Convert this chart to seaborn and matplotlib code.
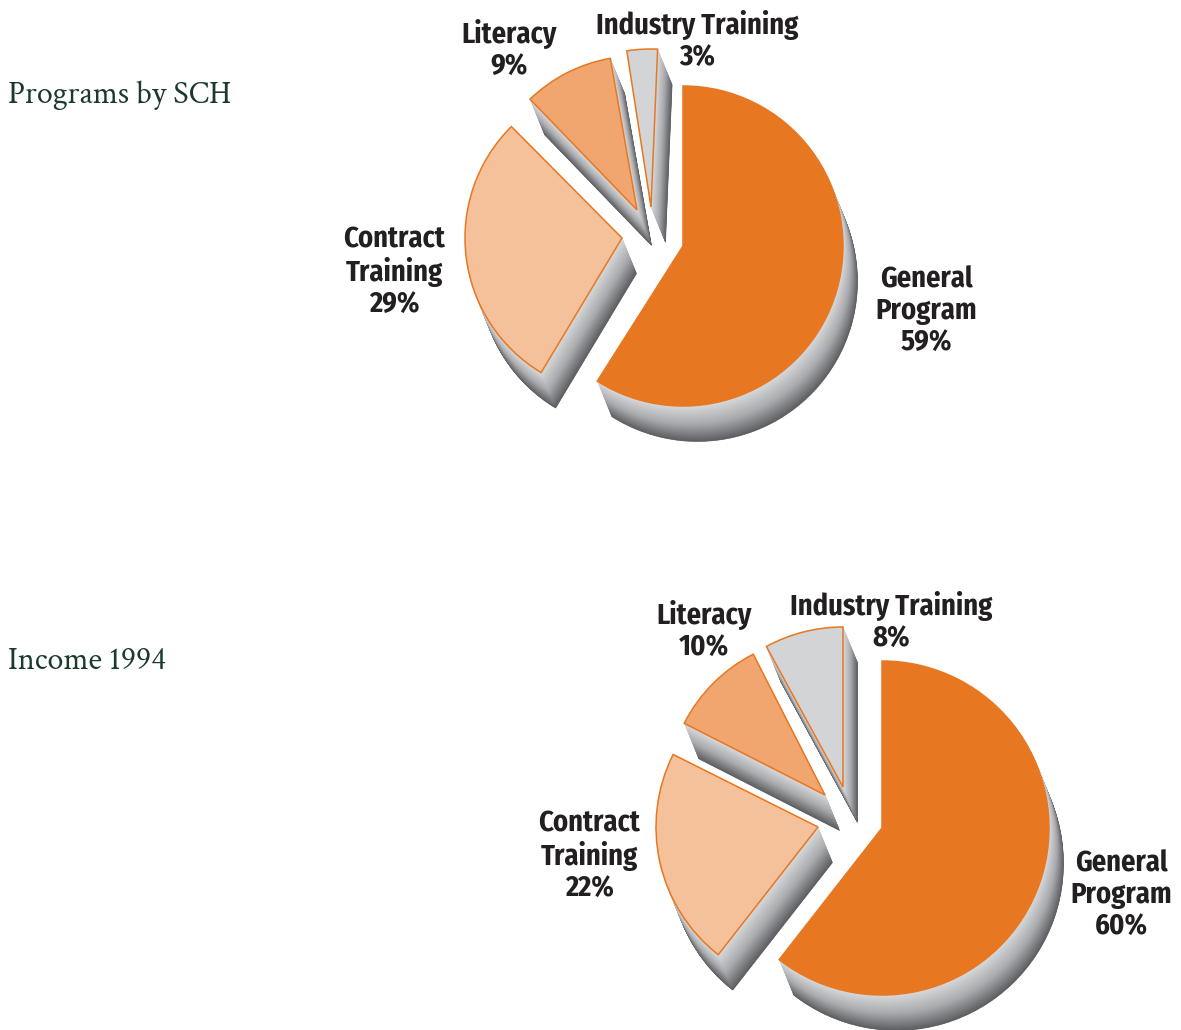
import logging
import matplotlib
matplotlib.use("Agg")
import matplotlib.pyplot as plt
import seaborn as sns

logging.getLogger("matplotlib.font_manager").setLevel(logging.ERROR)

# =====================================================
# DATA
# =====================================================

categories = ["General\nProgram", "Contract\nTraining", "Literacy", "Industry Training"]
sch_values = [59, 29, 9, 3]
income_values = [60, 22, 10, 8]

sch_title = "Programs by SCH"
income_title = "Income 1994"

# =====================================================
# STYLE
# =====================================================

W, H = 1181, 1030

slice_colors = ["#E87722", "#F5C19A", "#F2A66F", "#D2D4D6"]
line_color = "#E87722"
text_color = "#231F20"
title_color = "#1C3A2C"

shadow_steps = 72
shadow_dx = 14.5
shadow_dy = 35.5

# apex of each slice in pixels, its radius, and the small hand-drawn
# shift of its two edges (degrees clockwise) seen in the original
sch_apex = [(683, 246), (622, 238), (637, 210), (651, 207)]
sch_radius = [160, 157, 154, 158]
sch_nudge = [(0, 0), (-1.4, -1.6), (-0.8, 0.8), (2.0, 2.4)]

income_apex = [(882, 828), (818, 827), (825, 795), (843, 787)]
income_radius = [167, 162, 158, 160]
income_nudge = [(0, 2), (2, 1.4), (1.8, 1.8), (0.2, 0)]

sch_label_pos = [(926, 311), (394, 272), (509, 50), (697, 41)]
income_label_pos = [(1121, 895), (589, 856), (704, 631), (891, 622)]

sns.set_theme(style="white")
label_font = ["Fira Sans Condensed", "Liberation Sans", "DejaVu Sans"]
title_font = ["Crimson Text", "Liberation Serif", "DejaVu Serif"]

fig = plt.figure(figsize=(W / 100, H / 100), dpi=100, facecolor="white")
ax = fig.add_axes([0, 0, 1, 1])


def place(wedges, apex, radius, nudge, dx=0.0, dy=0.0):
    for wedge, (x, y), r, (start, end) in zip(wedges, apex, radius, nudge):
        wedge.set_center((x + dx, H - y - dy))
        wedge.set_radius(r)
        # clockwise pie: theta2 is the leading edge, theta1 the trailing one
        wedge.set_theta1(wedge.theta1 - end)
        wedge.set_theta2(wedge.theta2 - start)


def draw_pie(values, apex, radius, nudge):
    # extruded side: stacked grey copies, far and dark to near and light
    ramp = sns.blend_palette(["#D6D8DA", "#A9ABAE", "#5C5E62"], shadow_steps)

    for step in range(shadow_steps - 1, -1, -1):
        frac = (step + 1) / shadow_steps
        wedges, _ = ax.pie(
            values,
            colors=[ramp[step]] * len(values),
            startangle=90,
            counterclock=False,
            wedgeprops={"linewidth": 0.4, "edgecolor": ramp[step]},
        )
        place(wedges, apex, radius, nudge, shadow_dx * frac, shadow_dy * frac)

    wedges, _ = ax.pie(
        values,
        colors=slice_colors,
        startangle=90,
        counterclock=False,
        wedgeprops={"linewidth": 1.1, "edgecolor": line_color},
    )
    place(wedges, apex, radius, nudge)


def draw_labels(values, positions):
    for name, value, (x, y) in zip(categories, values, positions):
        ax.text(
            x,
            H - y,
            f"{name}\n{value}%",
            ha="center",
            va="center",
            ma="center",
            color=text_color,
            family=label_font,
            fontweight="bold",
            fontsize=20.5,
            linespacing=1.12,
        )


# =====================================================
# PIES
# =====================================================

draw_pie(sch_values, sch_apex, sch_radius, sch_nudge)
draw_pie(income_values, income_apex, income_radius, income_nudge)

draw_labels(sch_values, sch_label_pos)
draw_labels(income_values, income_label_pos)

for title, y in [(sch_title, 95), (income_title, 661)]:
    ax.text(
        8,
        H - y,
        title,
        ha="left",
        va="center",
        color=title_color,
        family=title_font,
        fontsize=23,
    )

ax.set_xlim(0, W)
ax.set_ylim(0, H)
ax.set_axis_off()

fig.savefig("out.png", dpi=100)
plt.close(fig)
